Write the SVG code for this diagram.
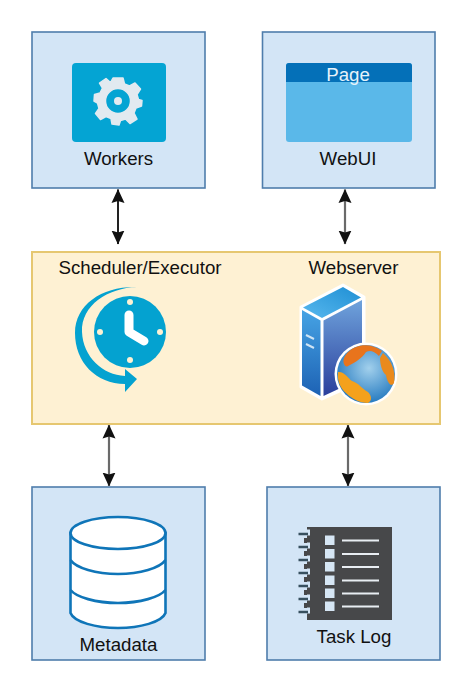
<svg xmlns="http://www.w3.org/2000/svg" width="472" height="692" viewBox="0 0 472 692">
<style>
.box{fill:#d3e5f6;stroke:#4f7dac;stroke-width:1.6}
.main{fill:#fef1d3;stroke:#e6c770;stroke-width:2}
text{font-family:"Liberation Sans",Arial,sans-serif;font-size:18.7px;fill:#111;text-anchor:middle}
.link{stroke:#222;stroke-width:2;fill:none;marker-start:url(#head);marker-end:url(#head)}
.gray{stroke:#6a6a6a;stroke-width:2.2}
.cyl{fill:#fff;stroke:#0f75b8;stroke-width:2.6}
.ln{stroke:#e8edf2;stroke-width:2.2}
.chk{fill:#d6e6f4}
.ring{stroke:#37505f;stroke-width:2.4;fill:none}
</style>
<defs>
<marker id="head" viewBox="0 0 14 14" refX="13.5" refY="7" markerWidth="14" markerHeight="14" markerUnits="userSpaceOnUse" orient="auto-start-reverse">
<path d="M0 0.5L14 7L0 13.5L2 7Z" fill="#111"/>
</marker>
<linearGradient id="front" x1="0" y1="0" x2="0" y2="1"><stop offset="0" stop-color="#6fa3dc"/><stop offset="1" stop-color="#2a3f9c"/></linearGradient>
<linearGradient id="side" x1="0" y1="0" x2="0" y2="1"><stop offset="0" stop-color="#46a3e4"/><stop offset="1" stop-color="#1d62b4"/></linearGradient>
<linearGradient id="top" x1="0" y1="1" x2="1" y2="0"><stop offset="0" stop-color="#58b8ee"/><stop offset="1" stop-color="#1f8fd4"/></linearGradient>
<radialGradient id="sea" cx="0.55" cy="0.4" r="0.65"><stop offset="0" stop-color="#a2d0ec"/><stop offset="1" stop-color="#1c74bd"/></radialGradient>
</defs>

<g id="connectors">
<line class="link" x1="118" y1="189.500" x2="118" y2="244"/>
<line class="link gray" x1="345" y1="189.500" x2="345" y2="244"/>
<line class="link gray" x1="109" y1="425" x2="109" y2="486"/>
<line class="link gray" x1="348" y1="425" x2="348" y2="486"/>
</g>

<g id="workers">
<rect class="box" x="32" y="32" width="173" height="156"/>
<rect x="72" y="63" width="94" height="79" rx="4" fill="#04a4d3"/>
<g transform="translate(118 101)" fill="#e2eaf0">
<path fill-rule="evenodd" stroke="#e2eaf0" stroke-width="1.500" stroke-linejoin="round" d="M-5-23L5-23L6.500-17L11.500-15L17-18L22.500-12L19-6.500L20.500-1.500L24-.5L23.500 5L18 7L16 12L19 18L12 22.500L7.500 18L2.500 19.500L1 24L-6 23L-7 17.500L-12 15.500L-17.500 18.500L-22.500 12.500L-19 7.500L-20.500 2L-24 0L-23.500-6.500L-18-8L-15.500-13L-18.500-18L-12-22.500L-7.500-18.500Z M12.500 0A12.500 12.500 0 1 0-12.500 0A12.500 12.500 0 1 0 12.500 0Z"/>
<circle r="4"/>
</g>
<text x="118.500" y="165">Workers</text>
</g>

<g id="webui">
<rect class="box" x="262.500" y="32" width="172.500" height="156"/>
<rect x="286" y="63" width="126" height="79" rx="3" fill="#5ab8e9"/>
<path d="M286 82V66a3 3 0 0 1 3-3H409a3 3 0 0 1 3 3V82Z" fill="#0470b8"/>
<text x="348" y="81" style="fill:#e6f2fa">Page</text>
<text x="348" y="165">WebUI</text>
</g>

<g id="core">
<rect class="main" x="32" y="252" width="408" height="172"/>
<text x="140" y="274">Scheduler/Executor</text>
<text x="353.500" y="274">Webserver</text>
<g id="clock-icon">
<circle cx="130" cy="332" r="36" fill="#04a2d0"/>
<circle cx="130" cy="302" r="3" fill="#fef1d3"/>
<circle cx="130" cy="360" r="3" fill="#fef1d3"/>
<circle cx="100" cy="332" r="3" fill="#fef1d3"/>
<circle cx="160" cy="332" r="3" fill="#fef1d3"/>
<path d="M129 315V332L144 341" fill="none" stroke="#fff" stroke-width="9" stroke-linecap="round" stroke-linejoin="round"/>
<path d="M137 287C108 288 81 305 82 332C83 357 103 375 125 376V369L137 379L125 392V384C96 384 75 362 75 333C75 304 103 286 137 287Z" fill="#04a2d0"/>
</g>
<g id="server-icon">
<path d="M301 307L343 285L364 297V380L322 399L301 387Z" fill="#fff" stroke="#fff" stroke-width="3" stroke-linejoin="round"/>
<path d="M303 307.500L322 318L361 297.500L343 287Z" fill="url(#top)"/>
<path d="M302 310L320.500 320.500V396L302 385.500Z" fill="url(#side)"/>
<path d="M323.500 320.500L362 300V378L323.500 396Z" fill="url(#front)"/>
<path d="M306 335L314 339M306 344L314 348" stroke="#cfe4f4" stroke-width="2"/>
<circle cx="366" cy="374" r="31.500" fill="#fff"/>
<circle cx="366" cy="374" r="29" fill="url(#sea)"/>
<path d="M356 347C364 344 374 345 382 351L379 356C374 351 370 350 366 352C362 358 356 362 348 366C346 368 342 364 344 358C346 353 351 349 356 347Z" fill="#e8741c"/>
<path d="M383 353C392 361 396 372 394 383C391 388 387 382 386 375C382 372 380 364 380 358Z" fill="#ea8a1c"/>
<path d="M338 372C344 371 348 378 352 381C359 383 362 389 368 392C372 396 372 401 368 403C360 403 352 399 346 393C340 388 337 380 338 372Z" fill="#f4a11c"/>
</g>
</g>

<g id="metadata">
<rect class="box" x="32" y="487" width="173" height="173"/>
<path class="cyl" d="M70.500 533V613C74 622 96 628 118 628C140 628 162 622 165.500 613V533Z"/>
<path d="M70.500 560C76 568 96 574 118 574C140 574 160 568 165.500 560M70.500 590C76 597 96 603 118 603C140 603 160 597 165.500 590" fill="none" stroke="#0f75b8" stroke-width="2.600"/>
<ellipse class="cyl" cx="118" cy="533" rx="47.500" ry="16"/>
<text x="118.500" y="651">Metadata</text>
</g>

<g id="tasklog">
<rect class="box" x="267" y="487" width="173" height="173"/>
<rect x="307" y="527" width="85" height="93" fill="#47484a"/>
<path d="M304 538H308V543H304ZM304 551H308V556H304ZM304 564H308V569H304ZM304 577H308V582H304ZM304 590H308V595H304ZM304 603H308V608H304Z" fill="#47484a"/>
<path d="M307 529.500h3v6h-3ZM307 542.500h3v6h-3ZM307 555.500h3v6h-3ZM307 568.500h3v6h-3ZM307 581.500h3v6h-3ZM307 594.500h3v6h-3ZM307 607.500h3v6h-3Z" fill="#d3e5f6"/>
<path class="ring" d="M298.500 534H308M298.500 547H308M298.500 560H308M298.500 573H308M298.500 586H308M298.500 599H308M298.500 612H308"/>
<rect class="chk" x="325" y="535.500" width="9.500" height="9.500"/><rect class="chk" x="325" y="549" width="9.500" height="9.500"/><rect class="chk" x="325" y="562" width="9.500" height="9.500"/><rect class="chk" x="325" y="575.500" width="9.500" height="9.500"/><rect class="chk" x="325" y="588.500" width="9.500" height="9.500"/><rect class="chk" x="325" y="601.500" width="9.500" height="9.500"/>
<path class="ln" d="M342 540.500H379M342 554H379M342 567H379M342 580.500H379M342 593.500H379M342 606.500H379"/>
<text x="354" y="643">Task Log</text>
</g>
</svg>
